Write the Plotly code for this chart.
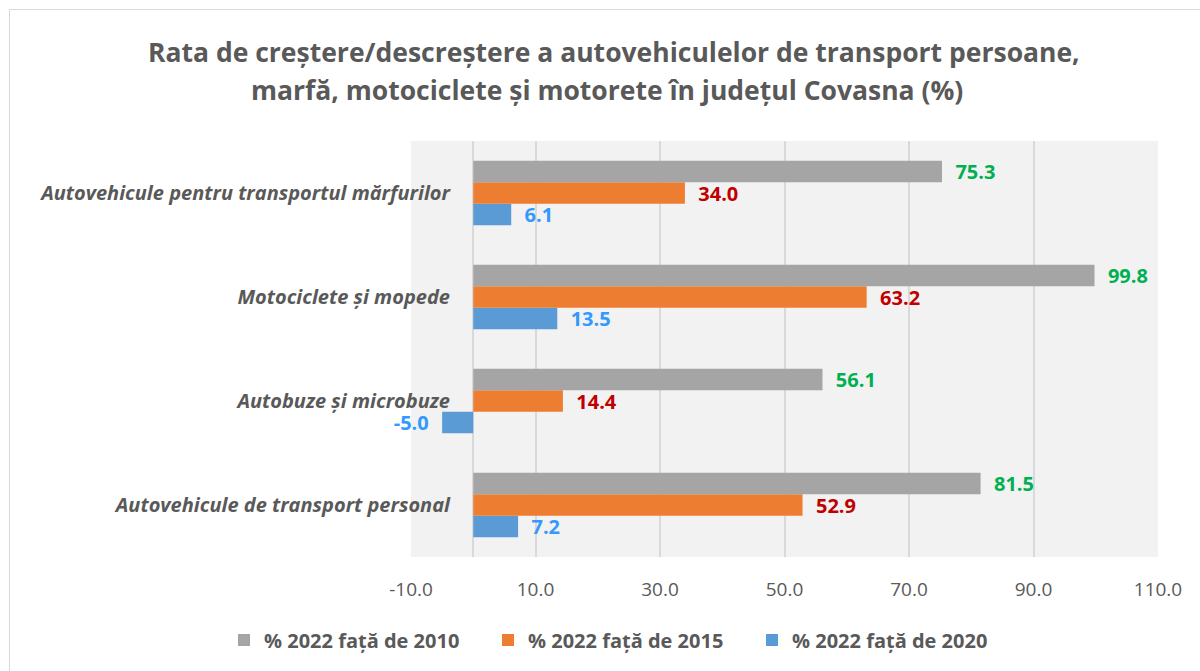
import plotly.graph_objects as go

categories = [
    "Autovehicule de transport personal",
    "Autobuze și microbuze",
    "Motociclete și mopede",
    "Autovehicule pentru transportul mărfurilor",
]
series_names = ["% 2022 față de 2010", "% 2022 față de 2015", "% 2022 față de 2020"]
vals_2010 = [81.5, 56.1, 99.8, 75.3]
vals_2015 = [52.9, 14.4, 63.2, 34.0]
vals_2020 = [7.2, -5.0, 13.5, 6.1]
x_tickvals = [-10, 10, 30, 50, 70, 90, 110]
x_ticktext = ["-10.0", "10.0", "30.0", "50.0", "70.0", "90.0", "110.0"]

bar_colors = ["#A5A5A5", "#ED7D31", "#5B9BD5"]
label_colors = ["#00B050", "#C00000", "#3399FF"]

FONT = "Open Sans"
GREY = "#595959"
PAD = "\u00a0" * 2


def labels(vals):
    return [PAD + f"{v:.1f}" if v >= 0 else f"{v:.1f}" + PAD for v in vals]


fig = go.Figure()
# add bottom-most bar of each group first
for name, vals, bc, lc in reversed(list(zip(series_names, [vals_2010, vals_2015, vals_2020], bar_colors, label_colors))):
    fig.add_trace(go.Bar(
        y=categories, x=vals, name=name, orientation="h",
        marker=dict(color=bc, line=dict(width=0)),
        text=labels(vals), textposition="outside", constraintext="none",
        cliponaxis=False,
        textfont=dict(family=FONT, size=20, color=lc, weight="bold"),
        hoverinfo="skip",
    ))

L, R, T, B = 411, 1158, 141, 557
W, H = 1200, 671
pw, ph = R - L, B - T


def px(x):
    return (x - L) / pw


def py(y):
    return (B - y) / ph


fig.update_layout(
    width=W, height=H,
    margin=dict(l=L, r=W - R, t=T, b=H - B, pad=0),
    paper_bgcolor="white", plot_bgcolor="#F2F2F2",
    barmode="group", bargap=0.38, bargroupgap=0,
    font=dict(family=FONT, color=GREY),
    showlegend=True,
    legend=dict(orientation="h", traceorder="reversed",
                x=px(224), xanchor="left", y=py(640), yanchor="middle",
                entrywidth=219, entrywidthmode="pixels",
                font=dict(family=FONT, size=20, color=GREY, weight="bold"),
                bgcolor="rgba(0,0,0,0)"),
    xaxis=dict(range=[-10, 110], tickmode="array", tickvals=x_tickvals, ticktext=x_ticktext,
               showgrid=True, gridcolor="#D9D9D9", gridwidth=1.5,
               zeroline=True, zerolinecolor="#D9D9D9", zerolinewidth=1.5,
               showline=False, ticks="",
               tickfont=dict(family=FONT, size=19, color=GREY),
               ticklabelstandoff=19, fixedrange=True),
    yaxis=dict(categoryorder="array", categoryarray=categories,
               showgrid=False, zeroline=False, showline=False, ticks="",
               tickfont=dict(family=FONT, size=20, color=GREY, weight="bold", style="italic"),
               ticklabelstandoff=-40, fixedrange=True),
    annotations=[
        dict(text="Rata de creștere/descreștere a autovehiculelor de transport persoane,",
             xref="paper", yref="paper", x=px(614), y=py(52), xanchor="center", yanchor="middle",
             showarrow=False, font=dict(family=FONT, size=26.5, color=GREY, weight="bold")),
        dict(text="marfă, motociclete și motorete în județul Covasna (%)",
             xref="paper", yref="paper", x=px(607), y=py(90), xanchor="center", yanchor="middle",
             showarrow=False, font=dict(family=FONT, size=26.5, color=GREY, weight="bold")),
    ],
    shapes=[dict(type="rect", xref="paper", yref="paper",
                 x0=px(9.5), x1=px(1210), y0=py(680), y1=py(9.5),
                 line=dict(color="#D9D9D9", width=1), layer="below")],
)

fig.write_html("out.html", config={"displayModeBar": False},
               post_script="document.body.style.margin='0';")
